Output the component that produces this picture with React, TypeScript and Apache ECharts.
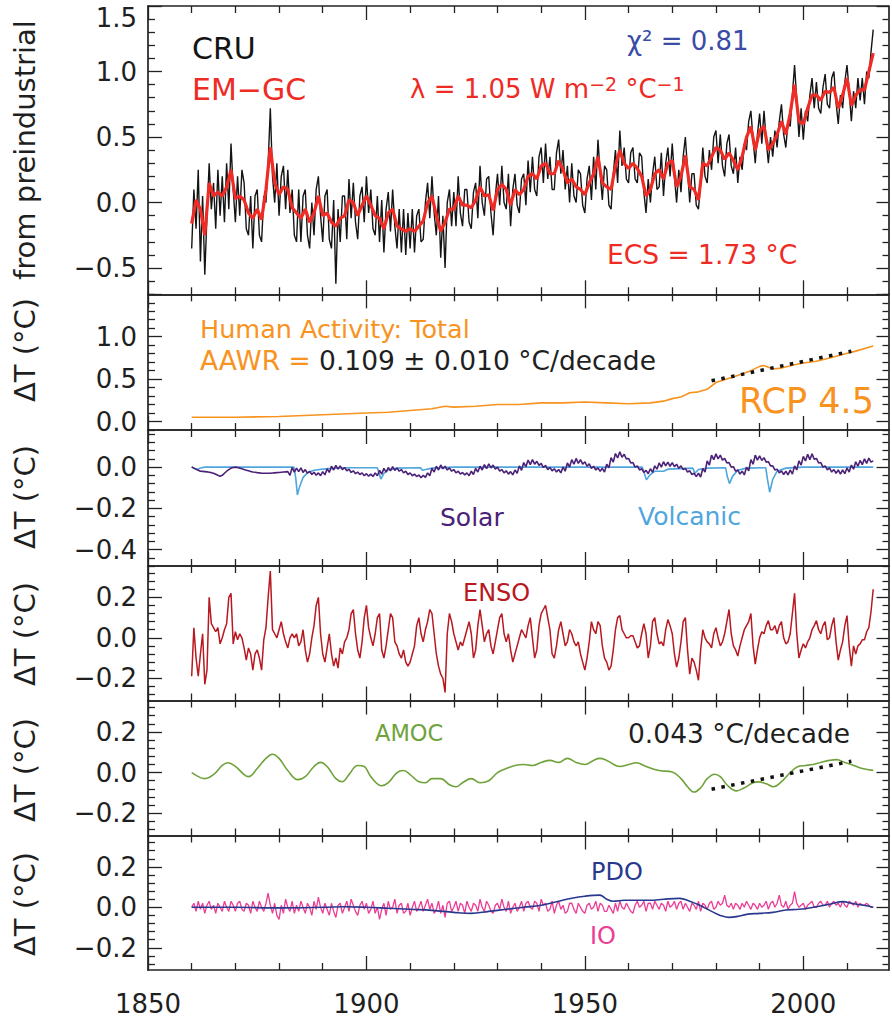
import { useEffect, useRef } from 'react';
import * as echarts from 'echarts';

const FONT = 'DejaVu Sans';
const AX = '#222222';

// Shared time axis
const YEAR_MIN = 1850;
const YEAR_MAX = 2019.5;
const MAJOR_YEARS = [1850, 1900, 1950, 2000];
const MINOR_YEARS = [1860, 1870, 1880, 1890, 1910, 1920, 1930, 1940, 1960, 1970, 1980, 1990, 2010];

// Series that start in 1860 with a fixed step
const SERIES_START = 1860;
const HALF_YEAR = 0.5;

// Observed global temperature (CRU), half-yearly, °C from preindustrial
const cru = [
  -0.35, 0.10, -0.20, 0.25, -0.45, 0.05, -0.55, -0.10, 0.30, -0.05, 0.15, -0.20, 0.25, -0.10, 0.20, -0.15, 0.30, -0.05, 0.45, 0.10,
  -0.15, 0.20, -0.10, 0.25, 0.15, -0.20, -0.25, 0.05, -0.35, 0.05, 0.10, -0.25, -0.30, 0.05, 0.00, 0.30, 0.72, 0.20, 0.00, 0.30,
  -0.10, 0.20, 0.28, -0.05, 0.25, -0.08, 0.10, -0.25, -0.30, 0.10, -0.30, 0.05, 0.10, -0.25, -0.35, 0.00, -0.25, 0.10, 0.20, -0.10,
  -0.30, 0.05, 0.10, -0.28, -0.35, 0.02, -0.62, -0.05, -0.30, 0.05, 0.05, -0.28, 0.18, -0.12, 0.15, -0.15, -0.28, 0.05, 0.12, -0.15,
  0.20, -0.08, 0.10, -0.20, -0.25, 0.05, -0.30, 0.02, -0.38, -0.05, 0.08, -0.22, 0.10, -0.18, -0.35, -0.05, -0.38, -0.05, -0.40, -0.08,
  -0.35, -0.05, -0.38, -0.10, -0.05, -0.30, -0.28, 0.00, 0.15, -0.12, 0.20, -0.08, -0.25, 0.05, -0.42, -0.10, -0.50, 0.00, 0.10, -0.18,
  0.08, -0.18, 0.20, -0.08, -0.18, 0.10, 0.10, -0.15, -0.20, 0.08, 0.15, -0.12, 0.28, 0.00, -0.10, 0.18, 0.20, -0.08, -0.25, 0.05,
  0.22, -0.02, 0.28, 0.00, -0.05, 0.22, -0.18, 0.10, 0.22, -0.02, -0.08, 0.18, 0.22, -0.02, 0.32, 0.08, 0.35, 0.10, 0.05, 0.35,
  0.42, 0.15, 0.45, 0.18, 0.35, 0.10, 0.10, 0.38, 0.48, 0.22, 0.40, 0.10, 0.28, 0.00, 0.30, 0.05, 0.00, 0.25, 0.22, -0.02,
  -0.08, 0.18, 0.28, 0.02, 0.35, 0.10, 0.48, 0.22, 0.02, 0.28, 0.25, -0.02, -0.05, 0.22, 0.40, 0.15, 0.55, 0.28, 0.42, 0.18,
  0.15, 0.38, 0.42, 0.18, 0.15, 0.38, 0.35, 0.08, -0.08, 0.18, 0.00, 0.22, 0.35, 0.10, 0.12, 0.38, 0.05, 0.30, 0.42, 0.20,
  0.45, 0.20, 0.00, 0.25, 0.08, 0.35, 0.50, 0.25, 0.00, 0.22, 0.22, -0.02, -0.05, 0.15, 0.42, 0.20, 0.15, 0.40, 0.25, 0.50,
  0.55, 0.30, 0.52, 0.28, 0.20, 0.45, 0.52, 0.28, 0.22, 0.42, 0.15, 0.35, 0.25, 0.45, 0.40, 0.62, 0.70, 0.48, 0.30, 0.52,
  0.68, 0.45, 0.70, 0.48, 0.30, 0.50, 0.35, 0.55, 0.42, 0.62, 0.75, 0.52, 0.42, 0.62, 0.58, 0.82, 1.05, 0.78, 0.50, 0.72,
  0.48, 0.70, 0.62, 0.82, 0.95, 0.72, 0.92, 0.72, 0.68, 0.88, 0.98, 0.75, 0.72, 0.95, 1.00, 0.76, 0.60, 0.82, 0.72, 0.92,
  1.05, 0.85, 0.62, 0.85, 0.72, 0.95, 0.78, 0.95, 0.75, 1.00, 0.95, 1.15, 1.32,
];

// EM-GC model fit, yearly
const emgc = [
  -0.16, 0.02, -0.05, -0.25, 0.15, 0.05, 0.08, 0.05, 0.12, 0.25,
  0.03, 0.05, 0.02, -0.08, -0.12, -0.05, -0.13, 0.10, 0.42, 0.15,
  0.06, 0.12, 0.10, -0.04, -0.08, -0.12, -0.05, -0.15, -0.08, 0.05,
  -0.10, -0.08, -0.15, -0.18, -0.12, -0.10, 0.02, 0.00, -0.10, -0.02,
  0.05, -0.02, -0.10, -0.12, -0.20, -0.08, -0.05, -0.18, -0.20, -0.22,
  -0.20, -0.22, -0.18, -0.14, 0.00, 0.05, -0.10, -0.22, -0.15, -0.05,
  -0.05, 0.05, -0.02, -0.02, -0.04, 0.02, 0.12, 0.05, 0.06, -0.06,
  0.10, 0.14, 0.10, -0.02, 0.10, 0.06, 0.10, 0.20, 0.22, 0.18,
  0.28, 0.30, 0.22, 0.22, 0.32, 0.25, 0.15, 0.18, 0.12, 0.10,
  0.06, 0.15, 0.22, 0.35, 0.15, 0.12, 0.10, 0.28, 0.40, 0.30,
  0.26, 0.30, 0.26, 0.20, 0.05, 0.10, 0.22, 0.25, 0.18, 0.30,
  0.32, 0.12, 0.20, 0.36, 0.12, 0.10, 0.02, 0.30, 0.28, 0.35,
  0.42, 0.40, 0.33, 0.38, 0.32, 0.25, 0.35, 0.50, 0.58, 0.40,
  0.55, 0.58, 0.40, 0.45, 0.52, 0.62, 0.52, 0.68, 0.90, 0.62,
  0.60, 0.72, 0.82, 0.82, 0.78, 0.85, 0.84, 0.88, 0.72, 0.82,
  0.95, 0.74, 0.82, 0.86, 0.86, 1.00, 1.14,
];

// Human activity: total (RCP 4.5)
const humanYears = [1860, 1870, 1880, 1890, 1900, 1905, 1910, 1915, 1918, 1920, 1925, 1930, 1935, 1940, 1945, 1950, 1955, 1960, 1965, 1968,
  1970, 1972, 1974, 1976, 1978, 1980, 1983, 1986, 1988, 1990, 1991, 1993, 1995, 1998, 2000, 2003, 2006, 2009, 2012, 2016];
const humanValues = [0.05, 0.05, 0.06, 0.08, 0.10, 0.11, 0.13, 0.15, 0.18, 0.17, 0.18, 0.20, 0.20, 0.22, 0.22, 0.23, 0.22, 0.21, 0.22, 0.24,
  0.27, 0.29, 0.34, 0.35, 0.38, 0.46, 0.51, 0.56, 0.60, 0.65, 0.66, 0.62, 0.63, 0.67, 0.69, 0.71, 0.75, 0.79, 0.83, 0.89];

// Attributable anthropogenic warming rate and its fitted segment
const AAWR_RATE = 0.109; // °C per decade
const AAWR_START = 1979;
const AAWR_END = 2011;
const AAWR_BASE = 0.48;

// Solar, half-yearly
const solar = [
  0.000, -0.005, -0.010, -0.015, -0.020, -0.021, -0.022, -0.023, -0.025, -0.027, -0.030, -0.035, -0.040, -0.044, -0.040, -0.030, -0.020, -0.012, -0.005, -0.002,
  0.000, -0.002, -0.005, -0.008, -0.012, -0.015, -0.018, -0.021, -0.024, -0.025, -0.027, -0.028, -0.030, -0.030, -0.030, -0.030, -0.030, -0.029, -0.028, -0.027,
  -0.026, -0.025, -0.024, -0.023, -0.022, -0.040, -0.002, -0.025, -0.005, -0.022, -0.004, -0.026, -0.012, -0.030, -0.020, -0.036, -0.025, -0.040, -0.028, -0.042,
  -0.022, -0.038, -0.008, -0.026, 0.004, -0.014, 0.008, -0.010, 0.006, -0.012, -0.002, -0.018, -0.010, -0.026, -0.018, -0.032, -0.024, -0.036, -0.028, -0.042,
  -0.032, -0.044, -0.034, -0.046, -0.028, -0.042, -0.016, -0.034, -0.006, -0.024, -0.002, -0.018, 0.002, -0.016, -0.004, -0.020, -0.012, -0.028, -0.020, -0.036,
  -0.028, -0.042, -0.034, -0.046, -0.038, -0.052, -0.040, -0.050, -0.028, -0.042, -0.006, -0.024, 0.004, -0.014, 0.010, -0.008, 0.004, -0.014, -0.004, -0.020,
  -0.012, -0.028, -0.020, -0.034, -0.026, -0.038, -0.028, -0.042, -0.020, -0.036, -0.006, -0.024, 0.004, -0.014, 0.012, -0.008, 0.016, -0.004, 0.010, -0.010,
  0.000, -0.020, -0.012, -0.028, -0.018, -0.034, -0.022, -0.038, -0.014, -0.030, 0.006, -0.016, 0.022, 0.002, 0.034, 0.012, 0.036, 0.014, 0.028, 0.008,
  0.018, -0.002, 0.008, -0.012, -0.002, -0.018, -0.008, -0.024, -0.012, -0.028, 0.000, -0.020, 0.020, 0.000, 0.036, 0.014, 0.042, 0.018, 0.036, 0.014,
  0.026, 0.004, 0.016, -0.006, 0.004, -0.014, -0.004, -0.020, -0.006, -0.024, 0.014, -0.004, 0.046, 0.024, 0.066, 0.044, 0.074, 0.048, 0.062, 0.040,
  0.042, 0.020, 0.022, 0.000, 0.006, -0.014, -0.008, -0.026, -0.016, -0.032, -0.008, -0.026, 0.006, -0.010, 0.020, 0.000, 0.026, 0.006, 0.024, 0.004,
  0.022, 0.002, 0.014, -0.006, 0.006, -0.012, -0.006, -0.024, -0.018, -0.036, -0.030, -0.046, -0.030, -0.048, -0.006, -0.024, 0.030, 0.010, 0.058, 0.036,
  0.064, 0.040, 0.058, 0.034, 0.042, 0.020, 0.022, 0.000, 0.002, -0.020, -0.014, -0.034, -0.020, -0.038, 0.000, -0.018, 0.036, 0.014, 0.058, 0.034,
  0.054, 0.032, 0.046, 0.024, 0.026, 0.006, 0.006, -0.014, -0.010, -0.028, -0.018, -0.036, -0.020, -0.038, -0.014, -0.034, 0.006, -0.014, 0.030, 0.010,
  0.052, 0.030, 0.062, 0.036, 0.064, 0.038, 0.042, 0.020, 0.022, 0.000, 0.006, -0.014, -0.004, -0.024, -0.012, -0.030, -0.014, -0.034, -0.014, -0.032,
  -0.004, -0.024, 0.010, -0.010, 0.026, 0.004, 0.032, 0.012, 0.040, 0.018, 0.044, 0.024, 0.030,
];

// Volcanic aerosol response
const volcanicYears = [1860, 1860.8, 1861.3, 1862, 1863, 1883.4, 1883.8, 1884.2, 1884.7, 1885.5, 1886.5, 1888, 1890, 1892, 1895,
  1902.5, 1902.9, 1903.3, 1904, 1905, 1907, 1912.4, 1912.8, 1913.5, 1915, 1920, 1963.1, 1963.6, 1964.1, 1964.8, 1966, 1968, 1969,
  1974.7, 1975.2, 1976, 1978, 1982.2, 1982.6, 1983.1, 1983.8, 1985, 1987, 1991.4, 1991.8, 1992.3, 1993, 1994, 1996, 2000, 2016];
const volcanicValues = [0, -0.008, -0.012, -0.004, 0.0, 0.0, -0.05, -0.135, -0.095, -0.05, -0.028, -0.015, -0.01, -0.006, -0.003,
  -0.003, -0.03, -0.058, -0.03, -0.014, -0.005, -0.003, -0.015, -0.012, -0.005, 0.0, 0.0, -0.03, -0.062, -0.04, -0.02, -0.02, -0.01,
  -0.005, -0.03, -0.012, -0.005, -0.003, -0.045, -0.08, -0.045, -0.015, -0.005, -0.003, -0.06, -0.122, -0.06, -0.02, -0.005, 0.0, 0.0];

// ENSO, half-yearly
const enso = [
  -0.19, 0.05, -0.10, -0.19, -0.08, 0.02, -0.23, -0.16, 0.20, 0.07, 0.05, 0.03, 0.05, -0.03, 0.00, 0.04, 0.07, 0.20, 0.22, -0.03,
  0.03, -0.01, 0.02, 0.00, -0.05, -0.11, -0.05, -0.08, -0.16, -0.08, -0.06, -0.10, -0.16, -0.01, 0.05, 0.20, 0.33, 0.04, 0.02, 0.00,
  0.04, 0.08, 0.02, -0.02, -0.05, 0.00, 0.02, 0.00, 0.02, -0.04, -0.02, 0.04, -0.06, -0.12, -0.08, 0.00, 0.06, 0.16, 0.20, 0.02,
  -0.08, -0.12, -0.05, 0.02, -0.08, -0.14, -0.10, -0.15, -0.05, -0.08, -0.02, 0.00, 0.04, 0.12, 0.14, 0.02, -0.06, -0.10, -0.02, 0.10,
  0.16, 0.05, 0.00, -0.04, 0.02, 0.10, 0.12, -0.06, -0.10, -0.04, 0.04, 0.12, 0.10, -0.02, -0.04, -0.08, -0.10, -0.06, -0.12, -0.14,
  -0.12, -0.08, -0.04, 0.06, 0.10, 0.02, -0.02, 0.04, 0.08, 0.14, 0.12, 0.02, -0.08, -0.14, -0.18, -0.20, -0.27, 0.02, 0.12, 0.08,
  0.02, -0.02, -0.06, -0.02, -0.04, 0.00, 0.04, 0.08, 0.02, -0.10, -0.06, 0.06, 0.14, 0.06, -0.02, 0.02, 0.04, -0.04, -0.08, -0.02,
  0.04, 0.10, 0.12, 0.02, -0.02, 0.02, -0.06, -0.12, -0.08, -0.04, 0.00, 0.04, 0.02, 0.00, 0.06, 0.10, 0.00, -0.10, -0.06, 0.06,
  0.12, 0.14, 0.16, 0.10, 0.04, -0.08, -0.10, -0.04, 0.04, 0.08, 0.02, -0.04, -0.02, 0.04, 0.02, -0.02, -0.04, -0.02, -0.08, -0.12,
  -0.16, -0.10, -0.02, 0.08, 0.04, 0.02, 0.08, 0.06, -0.04, -0.10, -0.12, -0.16, -0.14, -0.06, 0.04, 0.10, 0.11, 0.04, 0.02, 0.00,
  0.00, 0.01, 0.01, -0.02, -0.05, -0.04, 0.02, 0.07, 0.02, -0.10, -0.04, 0.08, 0.10, 0.02, -0.03, -0.02, -0.04, 0.04, 0.09, 0.06,
  0.02, -0.08, -0.145, -0.10, -0.02, 0.08, 0.10, -0.06, -0.18, -0.10, -0.12, -0.16, -0.21, -0.06, 0.04, 0.00, -0.02, -0.03, -0.05, 0.02,
  0.05, 0.00, -0.04, -0.02, 0.02, 0.08, 0.14, 0.02, -0.04, -0.06, -0.09, -0.04, 0.00, 0.04, 0.06, 0.08, 0.12, -0.04, -0.13, -0.06,
  0.00, 0.03, 0.02, 0.06, 0.085, 0.04, 0.04, 0.06, 0.02, 0.06, 0.08, 0.00, -0.03, -0.02, 0.02, 0.12, 0.22, 0.02, -0.10, -0.06,
  -0.03, -0.05, -0.02, 0.00, 0.04, 0.06, 0.085, 0.04, 0.02, 0.06, 0.08, -0.01, 0.00, 0.06, 0.10, -0.02, -0.11, -0.06, -0.02, 0.06,
  0.11, -0.04, -0.14, -0.04, -0.08, -0.04, -0.03, -0.01, -0.01, 0.03, 0.05, 0.13, 0.24,
];

// Atlantic Meridional Overturning Circulation
const amocYears = [1860, 1862, 1863, 1865, 1867, 1868.3, 1870, 1872, 1873, 1875, 1877, 1878.5, 1880, 1882, 1884.3, 1886, 1888, 1889.5, 1891, 1893,
  1894.5, 1896, 1898, 1899.5, 1901, 1903.5, 1905, 1907, 1908.5, 1910, 1912, 1913.5, 1915, 1917, 1919, 1920.5, 1922, 1924, 1926, 1928,
  1930, 1932, 1934, 1936, 1938, 1940, 1942, 1944, 1946, 1948, 1950, 1952, 1953.4, 1955, 1958, 1960, 1961.8, 1964, 1967, 1970,
  1972, 1973.5, 1975, 1976.5, 1978, 1979.7, 1981, 1982.5, 1984.7, 1986.5, 1988.5, 1989.7, 1991.5, 1993.2, 1995, 1997, 1998.8, 2000.5, 2002.2, 2004,
  2006, 2007.6, 2009.5, 2011.4, 2013.5, 2016];
const amocValues = [0.0, -0.025, -0.03, -0.01, 0.035, 0.048, 0.03, -0.01, -0.02, 0.02, 0.07, 0.09, 0.07, 0.01, -0.035, -0.02, 0.03, 0.05, 0.03, -0.03,
  -0.045, -0.01, 0.035, 0.03, -0.02, -0.065, -0.05, 0.0, 0.01, -0.01, -0.045, -0.05, -0.03, -0.03, -0.06, -0.07, -0.05, -0.03, -0.05, -0.04,
  0.0, 0.02, 0.035, 0.04, 0.035, 0.05, 0.06, 0.05, 0.07, 0.05, 0.04, 0.06, 0.07, 0.06, 0.03, 0.04, 0.048, 0.03, 0.01, 0.003,
  -0.03, -0.07, -0.096, -0.075, -0.03, -0.008, -0.02, -0.06, -0.09, -0.075, -0.05, -0.046, -0.055, -0.07, -0.045, 0.0, 0.03, 0.035, 0.04, 0.05,
  0.06, 0.064, 0.05, 0.036, 0.02, 0.011];
const AMOC_RATE = 0.043; // °C per decade
const AMOC_BASE = -0.082;

// Pacific Decadal Oscillation
const pdoYears = [1860, 1870, 1880, 1890, 1895, 1900, 1905, 1910, 1915, 1920, 1924, 1928, 1932, 1936, 1940, 1944, 1947, 1950, 1953.4, 1955,
  1956.5, 1959, 1962, 1965, 1968, 1971.7, 1974, 1976.3, 1979, 1981, 1983, 1985, 1987, 1990, 1993, 1996, 1999, 2003, 2006, 2009.1,
  2011, 2013.8, 2016];
const pdoValues = [0.0, 0.0, -0.003, 0.0, 0.003, 0.0, -0.005, -0.01, -0.015, -0.025, -0.03, -0.02, -0.01, 0.0, 0.01, 0.03, 0.045, 0.055, 0.06, 0.04,
  0.03, 0.035, 0.035, 0.035, 0.04, 0.044, 0.03, 0.01, -0.02, -0.04, -0.05, -0.045, -0.035, -0.03, -0.025, -0.013, -0.01, 0.003, 0.015, 0.028,
  0.02, 0.01, 0.0];

// Indian Ocean, half-yearly
const io = [
  0.00, 0.02, -0.02, 0.03, -0.01, 0.02, -0.03, 0.01, 0.03, -0.01, 0.01, -0.03, 0.02, 0.00, -0.02, 0.03, 0.00, -0.02, 0.03, 0.01,
  -0.02, 0.02, 0.03, -0.01, -0.02, 0.02, 0.01, -0.03, 0.03, 0.00, -0.02, 0.03, 0.00, -0.02, 0.02, 0.07, 0.01, -0.03, 0.02, -0.04,
  -0.06, 0.01, -0.03, 0.04, 0.00, -0.02, 0.03, -0.03, 0.01, -0.02, 0.03, 0.00, -0.03, 0.02, 0.00, -0.04, 0.03, -0.01, 0.05, 0.00,
  -0.03, 0.02, -0.01, -0.04, 0.02, -0.02, -0.05, 0.01, 0.02, -0.03, 0.00, 0.03, -0.02, 0.04, 0.01, -0.02, -0.04, 0.01, 0.03, -0.01,
  0.02, -0.03, -0.01, 0.03, -0.03, 0.00, -0.06, -0.01, 0.02, -0.04, 0.03, -0.01, 0.00, 0.04, -0.03, 0.01, 0.02, -0.03, -0.02, 0.02,
  -0.04, 0.00, 0.03, -0.02, 0.00, 0.03, -0.02, 0.01, 0.04, -0.01, 0.02, -0.03, -0.01, 0.03, -0.03, 0.01, -0.05, 0.02, 0.03, -0.02,
  0.00, 0.03, -0.02, 0.02, 0.01, -0.03, 0.03, 0.00, -0.02, 0.02, 0.01, -0.02, 0.04, 0.00, -0.02, 0.03, 0.01, -0.02, -0.03, 0.01,
  0.02, -0.01, 0.04, 0.00, -0.02, 0.03, -0.03, 0.00, 0.02, -0.02, 0.00, 0.03, -0.02, 0.02, 0.03, 0.00, -0.01, 0.03, 0.02, -0.02,
  0.04, 0.01, 0.02, -0.02, -0.01, 0.03, -0.03, 0.01, 0.03, -0.01, 0.01, -0.03, -0.02, 0.02, 0.02, -0.01, -0.03, 0.02, 0.00, -0.02,
  -0.03, 0.01, 0.02, -0.01, 0.00, 0.03, -0.02, 0.02, 0.01, -0.02, -0.02, 0.01, -0.01, -0.03, 0.02, -0.02, 0.03, 0.00, -0.01, 0.02,
  0.00, -0.02, -0.03, 0.01, 0.03, 0.00, 0.01, 0.03, -0.02, 0.02, 0.02, -0.01, 0.03, 0.01, -0.01, 0.02, 0.01, -0.02, 0.03, 0.00,
  0.01, 0.03, -0.01, 0.02, 0.03, -0.01, 0.02, 0.00, -0.02, 0.02, 0.01, -0.01, 0.03, -0.02, 0.02, 0.01, -0.01, 0.02, 0.03, -0.01,
  0.00, 0.03, 0.01, 0.02, 0.06, 0.01, 0.00, 0.02, -0.01, 0.02, 0.01, -0.01, 0.02, 0.00, 0.03, 0.01, -0.01, 0.02, 0.01, -0.01,
  0.02, 0.00, 0.01, 0.03, -0.01, 0.02, 0.03, 0.00, 0.02, 0.06, 0.01, 0.00, 0.03, -0.01, 0.01, 0.02, 0.077, 0.02, 0.00, 0.01,
  0.02, -0.01, 0.01, 0.02, 0.03, 0.00, 0.00, 0.02, 0.03, 0.01, 0.01, 0.03, 0.00, 0.02, 0.03, 0.01, 0.02, 0.00, 0.03, 0.01,
  0.00, 0.03, 0.02, 0.01, 0.03, 0.00, 0.02, 0.01, 0.01, 0.02, 0.01, 0.00, 0.00,
];

const COLORS = {
  cru: '#141414',
  emgc: '#ee2b24',
  chi: '#3a4ca6',
  human: '#f7931e',
  solar: '#4b2277',
  volcanic: '#4fa6de',
  enso: '#b8181f',
  amoc: '#6fa23a',
  pdo: '#29388f',
  io: '#ec3d96',
  text: '#1f1f1f',
};

type Panel = {
  top: number;
  height: number;
  min: number;
  max: number;
  majors: number[];
  labels: number[];
  minorStep: number;
  title: string;
  titleY: number;
};

const panels: Panel[] = [
  { top: 6, height: 288.3, min: -0.7, max: 1.5, majors: [-0.5, 0, 0.5, 1, 1.5], labels: [-0.5, 0, 0.5, 1, 1.5], minorStep: 0.1, title: 'from preindustrial', titleY: 150 },
  { top: 294.3, height: 135.7, min: -0.1, max: 1.5, majors: [0, 0.5, 1, 1.5], labels: [0, 0.5, 1], minorStep: 0.1, title: 'ΔT (°C)', titleY: 350 },
  { top: 430, height: 136, min: -0.48, max: 0.18, majors: [-0.4, -0.2, 0], labels: [-0.4, -0.2, 0], minorStep: 0.04, title: 'ΔT (°C)', titleY: 497 },
  { top: 566, height: 134.5, min: -0.31, max: 0.355, majors: [-0.2, 0, 0.2], labels: [-0.2, 0, 0.2], minorStep: 0.04, title: 'ΔT (°C)', titleY: 634 },
  { top: 700.5, height: 135, min: -0.31, max: 0.355, majors: [-0.2, 0, 0.2], labels: [-0.2, 0, 0.2], minorStep: 0.04, title: 'ΔT (°C)', titleY: 770 },
  { top: 835.5, height: 134.5, min: -0.31, max: 0.355, majors: [-0.2, 0, 0.2], labels: [-0.2, 0, 0.2], minorStep: 0.04, title: 'ΔT (°C)', titleY: 904 },
];

const fmt = (v: number) => (v < 0 ? '\u2212' : '') + Math.abs(v).toFixed(1);

function minorValues(min: number, max: number, step: number, majors: number[]) {
  const out: number[] = [];
  for (let k = Math.ceil(min / step - 1e-9); k * step <= max + 1e-9; k++) {
    const v = Math.round(k * step * 1000) / 1000;
    if (!majors.some((m) => Math.abs(m - v) < 1e-6)) out.push(v);
  }
  return out;
}

const stepped = (vals: number[], step: number) => vals.map((v, i) => [SERIES_START + i * step, v]);
const paired = (xs: number[], ys: number[]) => xs.map((x, i) => [x, ys[i]]);

function buildOption() {
  const grids: any[] = [];
  const xAxes: any[] = [];
  const yAxes: any[] = [];
  const tickLine = { color: AX, width: 1.3 };
  const mainLine = { show: true, onZero: false, lineStyle: { color: AX, width: 1.7 } };

  panels.forEach((p, i) => {
    grids.push({ left: 148, width: 740.5, top: p.top, height: p.height, containLabel: false, outerBoundsMode: 'none' });
    const isLast = i === panels.length - 1;
    const baseX = { type: 'value', gridIndex: i, min: YEAR_MIN, max: YEAR_MAX, splitLine: { show: false }, axisPointer: { show: false } };
    xAxes.push(
      {
        ...baseX, position: 'bottom', axisLine: mainLine,
        axisTick: { show: true, inside: true, length: 14, customValues: MAJOR_YEARS, lineStyle: tickLine },
        axisLabel: { show: isLast, customValues: MAJOR_YEARS, margin: 21, color: COLORS.text, fontSize: 26, fontFamily: FONT, formatter: (v: number) => String(v) },
      },
      {
        ...baseX, position: 'bottom', axisLine: { show: false, onZero: false },
        axisTick: { show: true, inside: true, length: 7, customValues: MINOR_YEARS, lineStyle: tickLine },
        axisLabel: { show: false },
      },
      {
        ...baseX, position: 'top', axisLine: mainLine,
        axisTick: { show: true, inside: true, length: 14, customValues: MAJOR_YEARS, lineStyle: tickLine },
        axisLabel: { show: false },
      },
      {
        ...baseX, position: 'top', axisLine: { show: false, onZero: false },
        axisTick: { show: true, inside: true, length: 7, customValues: MINOR_YEARS, lineStyle: tickLine },
        axisLabel: { show: false },
      },
    );
    const minors = minorValues(p.min, p.max, p.minorStep, p.majors);
    const baseY = { type: 'value', gridIndex: i, min: p.min, max: p.max, splitLine: { show: false }, axisPointer: { show: false } };
    yAxes.push(
      {
        ...baseY, position: 'left', axisLine: mainLine,
        axisTick: { show: true, inside: true, length: 14, customValues: p.majors, lineStyle: tickLine },
        axisLabel: {
          show: true, customValues: p.labels, margin: 11, color: COLORS.text, fontSize: 26, fontFamily: FONT,
          formatter: (v: number) => (v >= p.max - 1e-9 ? '{edge|' + fmt(v) + '}' : fmt(v)),
          rich: { edge: { padding: [24, 0, 0, 0], fontSize: 26, fontFamily: FONT, color: COLORS.text } },
        },
      },
      {
        ...baseY, position: 'left', axisLine: { show: false, onZero: false },
        axisTick: { show: true, inside: true, length: 7, customValues: minors, lineStyle: tickLine },
        axisLabel: { show: false },
      },
      {
        ...baseY, position: 'right', axisLine: mainLine,
        axisTick: { show: true, inside: true, length: 12, customValues: p.majors, lineStyle: tickLine },
        axisLabel: { show: false },
      },
      {
        ...baseY, position: 'right', axisLine: { show: false, onZero: false },
        axisTick: { show: true, inside: true, length: 6, customValues: minors, lineStyle: tickLine },
        axisLabel: { show: false },
      },
    );
  });

  const line = (panel: number, data: number[][], color: string, width: number, z: number, extra: any = {}) => ({
    type: 'line',
    xAxisIndex: panel * 4,
    yAxisIndex: panel * 4,
    data,
    symbol: 'none',
    showSymbol: false,
    silent: true,
    clip: true,
    z,
    lineStyle: { color, width, ...(extra.lineStyle || {}) },
    ...(extra.smooth !== undefined ? { smooth: extra.smooth } : {}),
  });

  const trend = (base: number, rate: number) => [
    [AAWR_START, base],
    [AAWR_END, base + (rate / 10) * (AAWR_END - AAWR_START)],
  ];
  const dotted = { lineStyle: { type: [3.5, 6.5], cap: 'butt' } };

  const series = [
    line(0, stepped(cru, HALF_YEAR), COLORS.cru, 1.4, 2),
    line(0, stepped(emgc, 1), COLORS.emgc, 3.2, 3),
    line(1, paired(humanYears, humanValues), COLORS.human, 1.6, 2),
    line(1, trend(AAWR_BASE, AAWR_RATE), '#111111', 3.5, 4, dotted),
    line(2, paired(volcanicYears, volcanicValues), COLORS.volcanic, 1.6, 2),
    line(2, stepped(solar, HALF_YEAR), COLORS.solar, 1.6, 3),
    line(3, stepped(enso, HALF_YEAR), COLORS.enso, 1.5, 2),
    line(4, paired(amocYears, amocValues), COLORS.amoc, 1.6, 2, { smooth: 0.4 }),
    line(4, trend(AMOC_BASE, AMOC_RATE), '#111111', 3.5, 4, dotted),
    line(5, stepped(io, HALF_YEAR), COLORS.io, 1.3, 2),
    line(5, paired(pdoYears, pdoValues), COLORS.pdo, 1.6, 3, { smooth: 0.4 }),
  ];

  const label = (text: string, x: number, y: number, fill: string, size: number) => ({
    type: 'text',
    x,
    y,
    silent: true,
    z: 10,
    style: { text, fill, fontSize: size, fontFamily: FONT, align: 'left', verticalAlign: 'middle', textAlign: 'left', textVerticalAlign: 'middle' },
  });

  const richLabel = (text: string, x: number, y: number, fill: string, rich: any) => ({
    type: 'text',
    x,
    y,
    silent: true,
    z: 10,
    style: {
      text, fill, fontSize: 26, fontFamily: FONT,
      align: 'left', verticalAlign: 'middle', textAlign: 'left', textVerticalAlign: 'middle', rich,
    },
  });

  const titles = panels.map((p) => ({
    type: 'text',
    x: 25,
    y: p.titleY,
    rotation: Math.PI / 2,
    silent: true,
    style: {
      text: p.title, fill: COLORS.text, fontSize: 29, fontFamily: FONT,
      align: 'center', verticalAlign: 'middle', textAlign: 'center', textVerticalAlign: 'middle',
    },
  }));

  const graphic = [
    ...titles,
    label('CRU', 192, 48, COLORS.cru, 30),
    label('EM\u2212GC', 192, 89, COLORS.emgc, 30),
    richLabel('{a|λ = 1.05 W m}{s|\u22122}{a| °C}{s|\u22121}', 410, 89, COLORS.emgc, {
      a: { fill: COLORS.emgc, fontSize: 26, fontFamily: FONT, lineHeight: 30 },
      s: { fill: COLORS.emgc, fontSize: 19, fontFamily: FONT, lineHeight: 14, verticalAlign: 'top' },
    }),
    label('χ² = 0.81', 627, 41, COLORS.chi, 26),
    label('ECS = 1.73 °C', 607, 254, COLORS.emgc, 26.5),
    label('Human Activity: Total', 200, 329, COLORS.human, 25.5),
    richLabel('{o|AAWR =} {k|0.109 ± 0.010 °C/decade}', 200, 360, COLORS.text, {
      o: { fill: COLORS.human, fontSize: 26.5, fontFamily: FONT },
      k: { fill: COLORS.text, fontSize: 26.5, fontFamily: FONT },
    }),
    label('RCP 4.5', 739, 401, COLORS.human, 35),
    label('Solar', 440, 517, COLORS.solar, 25),
    label('Volcanic', 638, 516, COLORS.volcanic, 25),
    label('ENSO', 463, 593, COLORS.enso, 24),
    label('AMOC', 375, 733, COLORS.amoc, 22.5),
    label('0.043 °C/decade', 628, 733, COLORS.text, 26.5),
    label('PDO', 591, 872, COLORS.pdo, 24),
    label('IO', 590, 936, COLORS.io, 24),
  ];

  return {
    animation: false,
    backgroundColor: '#ffffff',
    grid: grids,
    xAxis: xAxes,
    yAxis: yAxes,
    series,
    graphic,
  };
}

export default function App() {
  const ref = useRef<HTMLDivElement>(null);
  useEffect(() => {
    document.body.style.margin = '0';
    const chart = echarts.init(ref.current as HTMLDivElement, null, { renderer: 'svg' });
    chart.setOption(buildOption() as any);
    return () => chart.dispose();
  }, []);
  return <div ref={ref} style={{ width: 892, height: 1018 }} />;
}
